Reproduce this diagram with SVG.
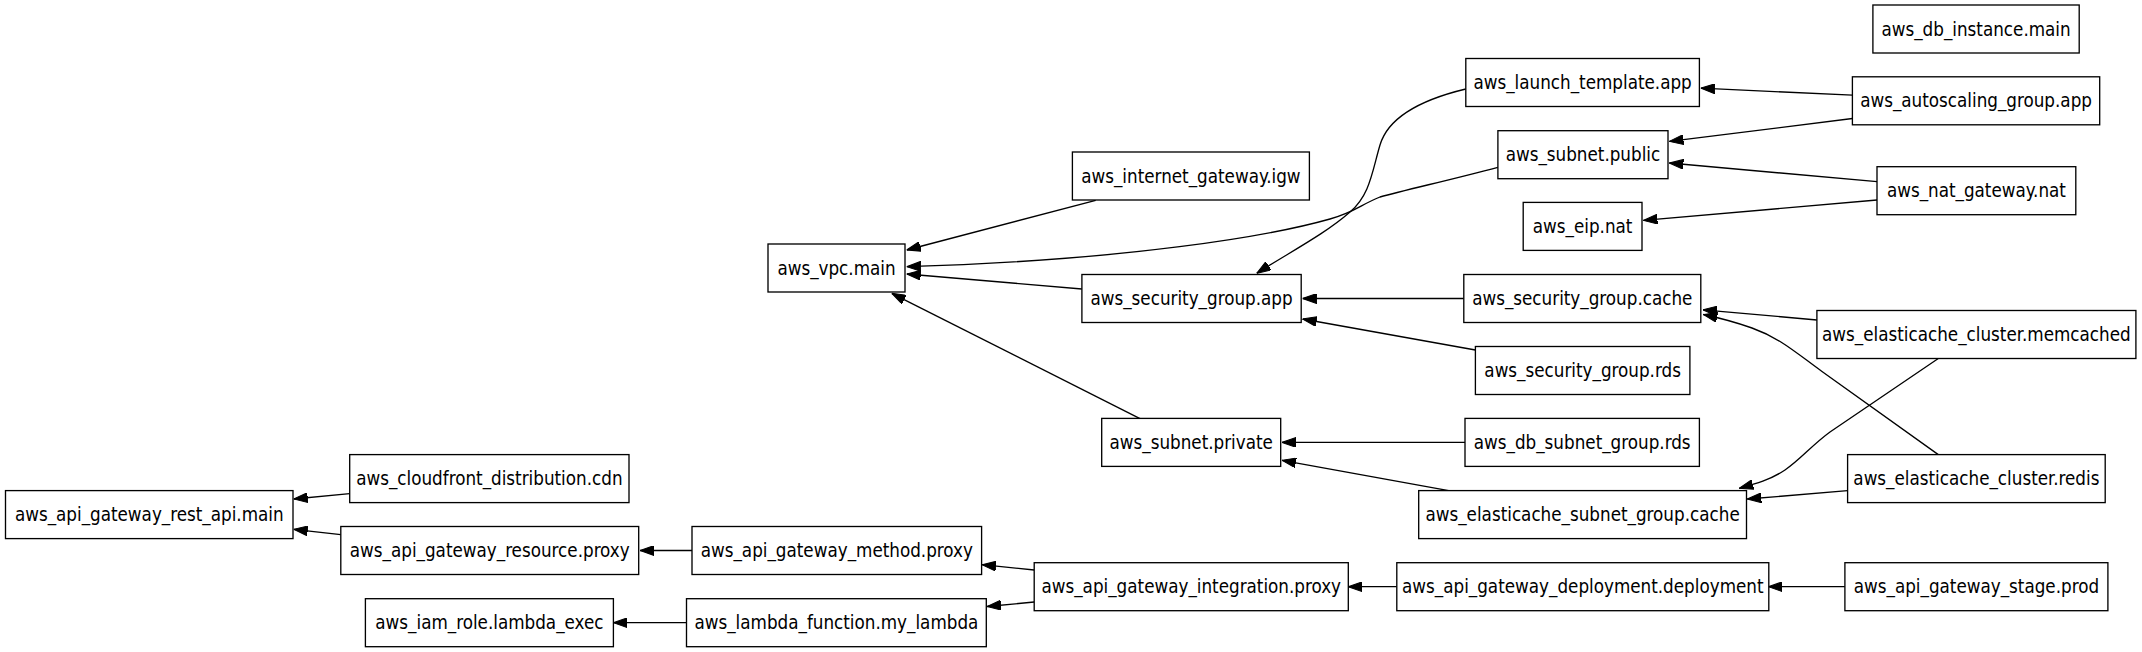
<svg xmlns="http://www.w3.org/2000/svg" width="2142" height="652" viewBox="0 0 2142 652">
<style>
.n rect { fill: #ffffff; stroke: #000000; stroke-width: 1.33; }
.n text { font-family: 'DejaVu Sans Condensed', 'DejaVu Sans', sans-serif; font-stretch: condensed; font-size: 18.67px; text-anchor: middle; fill: #000000; }
.e path { fill: none; stroke: #000000; stroke-width: 1.33; marker-end: url(#arr); }
</style>
<defs>
<marker id="arr" markerUnits="userSpaceOnUse" markerWidth="14" markerHeight="10" viewBox="0 0 13.33 9.33" refX="13.33" refY="4.67" orient="auto">
<path d="M0,0 L13.33,4.67 L0,9.33 z" fill="#000000" stroke="#000000" stroke-width="1"/>
</marker>
</defs>
<rect x="0" y="0" width="2142" height="652" fill="#ffffff"/>
<g id="edges" class="e">
<path d="M349.7,493.6 L293.7,499"/>
<path d="M340.8,534.7 L293.7,529.3"/>
<path d="M692,550.5 L640,550.5"/>
<path d="M1034.2,570 L982,564.7"/>
<path d="M1034.2,602 L987,606.5"/>
<path d="M686.5,622.7 L613.4,622.7"/>
<path d="M1396.8,586.7 L1348.3,586.7"/>
<path d="M1844.9,586.7 L1768.4,586.7"/>
<path d="M1095.7,200.3 L906.7,250"/>
<path d="M1497.9,167.3 C1450,180 1405,190 1380,197 C1360,205 1355,212 1330,219 C1270,236 1130,260 906.7,266.7"/>
<path d="M1081.9,289 L906.7,274"/>
<path d="M1140,418.7 L891.7,293.3"/>
<path d="M1465.8,89 C1420,100 1388,118 1380,145 C1372,172 1370,195 1350,212 C1325,234 1290,252 1256.7,273.3"/>
<path d="M1852.4,95.2 L1700.8,88.1"/>
<path d="M1852.4,118.5 L1669.4,141.4"/>
<path d="M1877,181.7 L1669.4,163"/>
<path d="M1877,200 L1643.4,220.4"/>
<path d="M1463.8,298.5 L1302.6,298.5"/>
<path d="M1475.4,350 L1302.6,319"/>
<path d="M1816.9,320 L1703,309.8"/>
<path d="M1938.3,454.6 L1822,371.5 C1795,352 1780,338 1752,328 C1735,322 1720,318 1703.3,314.5"/>
<path d="M1938.3,358.5 L1830,432 C1812,445 1800,460 1785,470 C1770,480 1755,484 1739.3,488.3"/>
<path d="M1847.6,490.7 L1747.3,499"/>
<path d="M1465,442.4 L1282,442.4"/>
<path d="M1448.7,490.6 L1282,460.3"/>
</g>
<g id="n_rest_api" class="n"><rect x="5.5" y="490.6" width="287.5" height="48"/><text x="149.25" y="521.2">aws_api_gateway_rest_api.main</text></g>
<g id="n_cloudfront" class="n"><rect x="349.7" y="454.6" width="279.3" height="48"/><text x="489.35" y="485.2">aws_cloudfront_distribution.cdn</text></g>
<g id="n_resource" class="n"><rect x="340.8" y="526.5" width="297.9" height="48"/><text x="489.75" y="557.1">aws_api_gateway_resource.proxy</text></g>
<g id="n_iam" class="n"><rect x="365.4" y="598.7" width="248" height="48"/><text x="489.4" y="629.3">aws_iam_role.lambda_exec</text></g>
<g id="n_method" class="n"><rect x="692" y="526.5" width="289.6" height="48"/><text x="836.8" y="557.1">aws_api_gateway_method.proxy</text></g>
<g id="n_lambda" class="n"><rect x="686.5" y="598.7" width="299.8" height="48"/><text x="836.4" y="629.3">aws_lambda_function.my_lambda</text></g>
<g id="n_vpc" class="n"><rect x="768" y="244" width="137" height="48"/><text x="836.5" y="274.6">aws_vpc.main</text></g>
<g id="n_integration" class="n"><rect x="1034.2" y="562.7" width="314.1" height="48"/><text x="1191.25" y="593.3">aws_api_gateway_integration.proxy</text></g>
<g id="n_igw" class="n"><rect x="1072.4" y="152" width="237" height="48"/><text x="1190.9" y="182.6">aws_internet_gateway.igw</text></g>
<g id="n_sg_app" class="n"><rect x="1081.9" y="274.5" width="219.3" height="48"/><text x="1191.55" y="305.1">aws_security_group.app</text></g>
<g id="n_subnet_private" class="n"><rect x="1101.7" y="418.4" width="179" height="48"/><text x="1191.2" y="449">aws_subnet.private</text></g>
<g id="n_launch_template" class="n"><rect x="1465.8" y="58.5" width="233.6" height="48"/><text x="1582.6" y="89.1">aws_launch_template.app</text></g>
<g id="n_subnet_public" class="n"><rect x="1497.9" y="130.7" width="170.1" height="48"/><text x="1582.95" y="161.3">aws_subnet.public</text></g>
<g id="n_eip" class="n"><rect x="1523.2" y="202.4" width="118.8" height="48"/><text x="1582.6" y="233">aws_eip.nat</text></g>
<g id="n_sg_cache" class="n"><rect x="1463.8" y="274.5" width="237" height="48"/><text x="1582.3" y="305.1">aws_security_group.cache</text></g>
<g id="n_sg_rds" class="n"><rect x="1475.4" y="346.5" width="214.5" height="48"/><text x="1582.65" y="377.1">aws_security_group.rds</text></g>
<g id="n_db_subnet" class="n"><rect x="1465" y="418.4" width="234.4" height="48"/><text x="1582.2" y="449">aws_db_subnet_group.rds</text></g>
<g id="n_esg" class="n"><rect x="1418.7" y="490.6" width="327.8" height="48"/><text x="1582.6" y="521.2">aws_elasticache_subnet_group.cache</text></g>
<g id="n_deployment" class="n"><rect x="1396.8" y="562.7" width="372" height="48"/><text x="1582.8" y="593.3">aws_api_gateway_deployment.deployment</text></g>
<g id="n_db_instance" class="n"><rect x="1872.9" y="5" width="206.3" height="48"/><text x="1976.05" y="35.6">aws_db_instance.main</text></g>
<g id="n_autoscaling" class="n"><rect x="1852.4" y="76.8" width="247.3" height="48"/><text x="1976.05" y="107.4">aws_autoscaling_group.app</text></g>
<g id="n_nat" class="n"><rect x="1877" y="166.7" width="198.8" height="48"/><text x="1976.4" y="197.3">aws_nat_gateway.nat</text></g>
<g id="n_memcached" class="n"><rect x="1816.9" y="310.5" width="319" height="48"/><text x="1976.4" y="341.1">aws_elasticache_cluster.memcached</text></g>
<g id="n_redis" class="n"><rect x="1847.6" y="454.6" width="257.6" height="48"/><text x="1976.4" y="485.2">aws_elasticache_cluster.redis</text></g>
<g id="n_stage" class="n"><rect x="1844.9" y="562.7" width="263" height="48"/><text x="1976.4" y="593.3">aws_api_gateway_stage.prod</text></g>
</svg>
